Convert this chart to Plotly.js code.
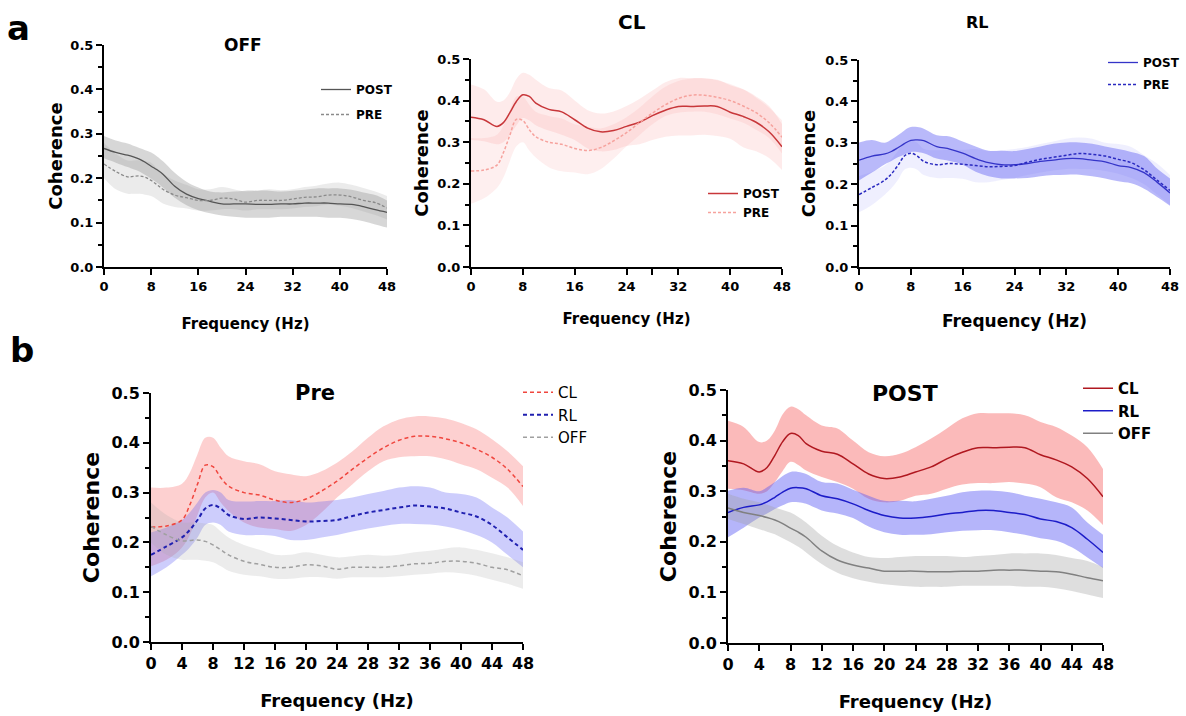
<!DOCTYPE html>
<html>
<head>
<meta charset="utf-8">
<script src="https://cdn.plot.ly/plotly-3.0.1.min.js"></script>
<style>html,body{margin:0;padding:0;background:#fff;}#chart{width:1186px;height:716px;}</style>
</head>
<body>
<div id="chart"></div>
<script>
// Frequency grid (Hz)
const freq = [0,2,4,5,6,7,8,9,10,12,14,16,18,20,22,24,26,28,30,32,34,36,38,40,42,44,46,48];

// PRE condition
const clPreMean = [0.231,0.233,0.245,0.275,0.317,0.355,0.352,0.330,0.313,0.300,0.295,0.285,0.280,0.287,0.303,0.323,0.347,0.370,0.390,0.405,0.413,0.413,0.408,0.400,0.387,0.371,0.347,0.312];
const clPreHi   = [0.310,0.310,0.318,0.340,0.377,0.410,0.410,0.390,0.373,0.363,0.357,0.343,0.337,0.333,0.343,0.360,0.383,0.410,0.433,0.447,0.453,0.453,0.449,0.440,0.427,0.407,0.383,0.353];
const clPreLo   = [0.152,0.165,0.190,0.215,0.255,0.290,0.300,0.280,0.263,0.240,0.230,0.227,0.223,0.235,0.260,0.290,0.317,0.343,0.363,0.371,0.373,0.373,0.367,0.357,0.347,0.330,0.310,0.273];

const rlPreMean = [0.175,0.192,0.210,0.225,0.245,0.268,0.275,0.268,0.255,0.247,0.250,0.248,0.245,0.242,0.243,0.245,0.253,0.260,0.265,0.270,0.274,0.272,0.268,0.260,0.252,0.235,0.210,0.185];
const rlPreHi   = [0.220,0.230,0.245,0.260,0.280,0.300,0.305,0.300,0.285,0.282,0.283,0.283,0.285,0.280,0.282,0.285,0.290,0.297,0.303,0.310,0.313,0.310,0.300,0.297,0.290,0.270,0.250,0.222];
const rlPreLo   = [0.132,0.150,0.175,0.190,0.210,0.235,0.240,0.235,0.222,0.215,0.215,0.213,0.205,0.205,0.210,0.215,0.222,0.228,0.233,0.237,0.237,0.236,0.232,0.225,0.215,0.200,0.175,0.150];

const offPreMean = [0.232,0.215,0.203,0.204,0.205,0.202,0.195,0.185,0.175,0.162,0.156,0.150,0.150,0.155,0.153,0.146,0.150,0.150,0.150,0.153,0.157,0.158,0.162,0.162,0.158,0.150,0.145,0.133];
const offPreHi   = [0.280,0.255,0.240,0.240,0.240,0.238,0.235,0.222,0.210,0.195,0.185,0.175,0.175,0.180,0.175,0.170,0.172,0.175,0.173,0.175,0.180,0.183,0.188,0.190,0.185,0.178,0.170,0.160];
const offPreLo   = [0.200,0.175,0.165,0.165,0.165,0.163,0.160,0.152,0.143,0.135,0.132,0.127,0.127,0.130,0.130,0.127,0.130,0.130,0.130,0.132,0.135,0.137,0.140,0.138,0.133,0.125,0.117,0.107];

// POST condition
const clPostMean = [0.360,0.354,0.338,0.347,0.371,0.398,0.414,0.410,0.394,0.379,0.373,0.354,0.334,0.325,0.328,0.338,0.348,0.364,0.377,0.386,0.386,0.387,0.386,0.372,0.362,0.348,0.325,0.289];
const clPostHi   = [0.439,0.427,0.397,0.400,0.420,0.452,0.467,0.462,0.450,0.430,0.424,0.400,0.377,0.369,0.374,0.387,0.404,0.424,0.444,0.454,0.454,0.454,0.450,0.437,0.427,0.410,0.387,0.344];
const clPostLo   = [0.305,0.302,0.295,0.300,0.318,0.340,0.358,0.352,0.341,0.328,0.318,0.305,0.285,0.278,0.281,0.291,0.295,0.305,0.313,0.316,0.316,0.318,0.315,0.308,0.288,0.278,0.262,0.233];

const rlPostMean = [0.258,0.268,0.273,0.279,0.288,0.298,0.306,0.307,0.305,0.291,0.285,0.275,0.262,0.252,0.247,0.247,0.250,0.255,0.258,0.262,0.262,0.258,0.254,0.245,0.240,0.228,0.205,0.179];
const rlPostHi   = [0.301,0.307,0.300,0.308,0.318,0.330,0.338,0.338,0.334,0.318,0.315,0.303,0.291,0.281,0.281,0.280,0.285,0.291,0.298,0.301,0.301,0.298,0.291,0.285,0.278,0.268,0.238,0.214];
const rlPostLo   = [0.209,0.228,0.248,0.256,0.265,0.272,0.278,0.278,0.275,0.262,0.256,0.247,0.230,0.219,0.214,0.214,0.215,0.219,0.222,0.223,0.223,0.219,0.214,0.207,0.202,0.189,0.169,0.148];

const offPostMean = [0.267,0.258,0.252,0.248,0.243,0.236,0.227,0.219,0.209,0.182,0.164,0.154,0.148,0.142,0.142,0.142,0.141,0.141,0.142,0.142,0.144,0.144,0.144,0.142,0.141,0.136,0.129,0.123];
const offPostHi   = [0.295,0.285,0.278,0.273,0.268,0.263,0.258,0.249,0.238,0.212,0.192,0.179,0.170,0.168,0.170,0.172,0.172,0.172,0.170,0.172,0.174,0.177,0.177,0.177,0.174,0.168,0.162,0.150];
const offPostLo   = [0.245,0.235,0.225,0.220,0.215,0.207,0.199,0.190,0.179,0.156,0.139,0.128,0.121,0.116,0.113,0.111,0.111,0.111,0.113,0.113,0.113,0.113,0.111,0.111,0.108,0.103,0.096,0.089];

const FONT = 'DejaVu Sans, Arial, sans-serif';

function band(lo, hi, fillcolor, ax) {
  return [
    {x: freq, y: lo, type: 'scatter', mode: 'lines', line: {width: 0, shape: 'spline', smoothing: 1}, xaxis: 'x' + ax, yaxis: 'y' + ax, showlegend: false, hoverinfo: 'skip'},
    {x: freq, y: hi, type: 'scatter', mode: 'lines', line: {width: 0, shape: 'spline', smoothing: 1}, fill: 'tonexty', fillcolor: fillcolor, xaxis: 'x' + ax, yaxis: 'y' + ax, showlegend: false, hoverinfo: 'skip'}
  ];
}
function meanLine(y, name, color, width, dash, ax, legend, group) {
  return {x: freq, y: y, type: 'scatter', mode: 'lines', name: name,
    line: {color: color, width: width, dash: dash, shape: 'spline', smoothing: 1},
    xaxis: 'x' + ax, yaxis: 'y' + ax, legend: legend, legendgroup: group};
}

const data = [].concat(
  // a: OFF
  band(offPreLo, offPreHi, 'rgba(190,190,190,0.30)', ''),
  band(offPostLo, offPostHi, 'rgba(150,150,150,0.38)', ''),
  [meanLine(offPostMean, 'POST', '#555555', 1.3, 'solid', '', 'legend', 'g1'),
   meanLine(offPreMean, 'PRE', '#8a8a8a', 1.3, '3px,2px', '', 'legend', 'g2')],
  // a: CL
  band(clPreLo, clPreHi, 'rgba(250,150,150,0.15)', '2'),
  band(clPostLo, clPostHi, 'rgba(250,130,130,0.16)', '2'),
  [meanLine(clPostMean, 'POST', '#c8373a', 1.5, 'solid', '2', 'legend2', 'g1'),
   meanLine(clPreMean, 'PRE', '#f6a29d', 1.5, '3px,2px', '2', 'legend2', 'g2')],
  // a: RL
  band(rlPreLo, rlPreHi, 'rgba(150,150,245,0.15)', '3'),
  band(rlPostLo, rlPostHi, 'rgba(100,100,245,0.45)', '3'),
  [meanLine(rlPostMean, 'POST', '#3434c8', 1.3, 'solid', '3', 'legend3', 'g1'),
   meanLine(rlPreMean, 'PRE', '#2a2ac0', 1.5, '3px,2px', '3', 'legend3', 'g2')],
  // b: Pre
  band(clPreLo, clPreHi, 'rgba(250,100,100,0.30)', '4'),
  band(rlPreLo, rlPreHi, 'rgba(90,90,245,0.30)', '4'),
  band(offPreLo, offPreHi, 'rgba(170,170,170,0.22)', '4'),
  [meanLine(clPreMean, 'CL', '#f0463e', 1.5, '4px,3px', '4', 'legend4', 'g1'),
   meanLine(rlPreMean, 'RL', '#2020b0', 2, '4px,3px', '4', 'legend4', 'g2'),
   meanLine(offPreMean, 'OFF', '#a0a0a0', 1.5, '4px,3px', '4', 'legend4', 'g3')],
  // b: POST
  band(clPostLo, clPostHi, 'rgba(245,90,90,0.42)', '5'),
  band(rlPostLo, rlPostHi, 'rgba(90,90,245,0.45)', '5'),
  band(offPostLo, offPostHi, 'rgba(160,160,160,0.35)', '5'),
  [meanLine(clPostMean, 'CL', '#b01820', 1.5, 'solid', '5', 'legend5', 'g1'),
   meanLine(rlPostMean, 'RL', '#1c1cc8', 1.5, 'solid', '5', 'legend5', 'g2'),
   meanLine(offPostMean, 'OFF', '#808080', 1.5, 'solid', '5', 'legend5', 'g3')]
);

const W = 1186, H = 716;
const px = v => v / W, py = v => 1 - v / H;

function xAx(l, r, dtick, tickSize, titleSize, standoff, extraMinor) {
  const ax = {
    domain: [px(l), px(r)], range: [0, 48], dtick: dtick, tick0: 0, tickmode: 'linear',
    showline: true, linewidth: 2, linecolor: '#000', ticks: 'outside', ticklen: 6, tickwidth: 2, tickcolor: '#000',
    showgrid: false, zeroline: false, fixedrange: true,
    tickfont: {family: FONT, size: tickSize, color: '#000', weight: 'bold'},
    title: {text: 'Frequency (Hz)', font: {family: FONT, size: titleSize, color: '#000', weight: 'bold'}, standoff: standoff}
  };
  if (extraMinor) ax.minor = {tickmode: 'array', tickvals: [28], ticks: 'outside', ticklen: 6, tickwidth: 2, tickcolor: '#000', showgrid: false};
  return ax;
}
function yAx(top, bot, anchor, tickSize, titleSize, standoff) {
  return {
    domain: [py(bot), py(top)], range: [0, 0.5], dtick: 0.1, tick0: 0, tickmode: 'linear', tickformat: '.1f',
    showline: true, linewidth: 2, linecolor: '#000', ticks: 'outside', ticklen: 6, tickwidth: 2, tickcolor: '#000',
    minor: {dtick: 0.05, ticks: 'outside', ticklen: 4, tickwidth: 2, tickcolor: '#000', showgrid: false},
    showgrid: false, zeroline: false, fixedrange: true, anchor: anchor,
    tickfont: {family: FONT, size: tickSize, color: '#000', weight: 'bold'},
    title: {text: 'Coherence', font: {family: FONT, size: titleSize, color: '#000', weight: 'bold'}, standoff: standoff}
  };
}

function legendAt(xl, ytop, size, bold, gap) {
  return {x: px(xl), y: py(ytop), xanchor: 'left', yanchor: 'top', bgcolor: 'rgba(0,0,0,0)', borderwidth: 0,
    font: {family: FONT, size: size, color: '#000', weight: bold ? 'bold' : 'normal'}, itemwidth: 30, tracegroupgap: gap};
}

function ann(text, x, y, size) {
  return {text: text, x: px(x), y: py(y), xref: 'paper', yref: 'paper', showarrow: false, xanchor: 'center', yanchor: 'middle',
    font: {family: FONT, size: size, color: '#000', weight: 'bold'}};
}

const layout = {
  width: W, height: H, margin: {l: 0, r: 0, t: 0, b: 0}, paper_bgcolor: '#fff', plot_bgcolor: 'rgba(0,0,0,0)',
  showlegend: true,
  xaxis:  Object.assign(xAx(104, 387, 8, 13, 15, 26, false), {anchor: 'y'}),
  yaxis:  yAx(45, 267, 'x', 13, 18, 3),
  xaxis2: Object.assign(xAx(471, 782, 8, 13, 15, 21, true), {anchor: 'y2'}),
  yaxis2: yAx(59, 267, 'x2', 13, 18, 4),
  xaxis3: Object.assign(xAx(859, 1170, 8, 13, 17, 23, true), {anchor: 'y3'}),
  yaxis3: yAx(60, 267, 'x3', 13, 18, 5),
  xaxis4: Object.assign(xAx(151, 523, 4, 16, 18, 22, false), {anchor: 'y4'}),
  yaxis4: yAx(393, 642, 'x4', 16, 22, 6),
  xaxis5: Object.assign(xAx(728, 1103, 4, 16, 18, 22, false), {anchor: 'y5'}),
  yaxis5: yAx(390, 643, 'x5', 16, 22, 6),
  legend:  legendAt(316, 75, 12, true, 6),
  legend2: legendAt(703, 179, 12, true, 0),
  legend3: legendAt(1103, 48, 12, true, 3),
  legend4: legendAt(518, 376, 15, false, 0),
  legend5: legendAt(1078, 372, 15, true, 0),
  annotations: [
    ann('a', 18, 28, 34), ann('b', 22, 350, 34),
    ann('OFF', 243, 45, 17), ann('CL', 632, 22, 20), ann('RL', 977, 22, 16),
    ann('Pre', 315, 393, 21), ann('POST', 905, 393, 22)
  ]
};

Plotly.newPlot('chart', data, layout, {staticPlot: true, displayModeBar: false});
</script>
</body>
</html>
